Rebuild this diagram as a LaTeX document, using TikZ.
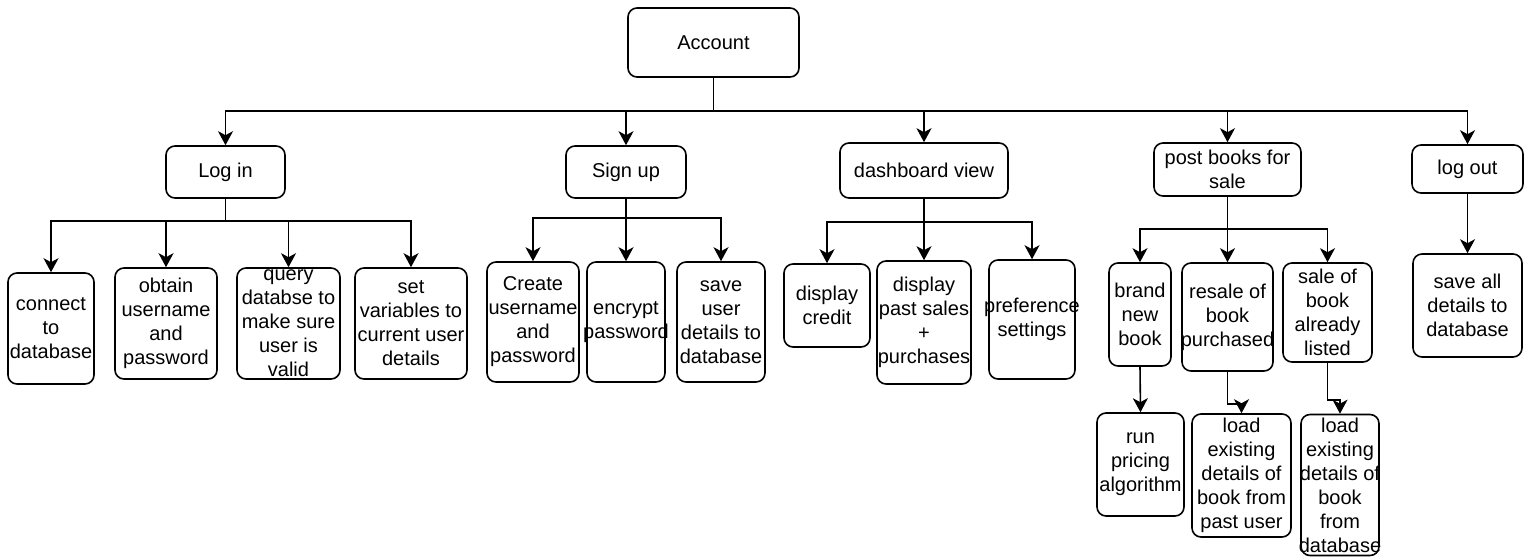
\documentclass[tikz,border=0pt]{standalone}
\usepackage{fontspec}
\setmainfont{Liberation Sans}
\usetikzlibrary{arrows.meta}
\begin{document}
\begin{tikzpicture}[x=1pt,y=-1pt,
  box/.style={draw, rounded corners=9pt, line width=1.6pt, inner sep=0pt},
  lbl/.style={align=center, font=\fontsize{20}{24}\selectfont, inner sep=0pt},
  arr/.style={line width=1.6pt, -{Stealth[length=14pt,width=15pt,inset=4pt]}}]
\useasboundingbox (0,0) rectangle (1528,557);

% root
\node[box, minimum width=171pt, minimum height=69pt, label={[lbl]center:Account}] (acc) at (713.5,42.5) {};

% first level
\node[box, minimum width=119pt, minimum height=52pt, label={[lbl]center:Log in}] (login) at (225.5,172) {};
\node[box, minimum width=120pt, minimum height=52pt, label={[lbl]center:Sign up}] (signup) at (626,172) {};
\node[box, minimum width=168pt, minimum height=55pt, label={[lbl]center:dashboard view}] (dash) at (924,170.5) {};
\node[box, minimum width=147pt, minimum height=53pt, label={[lbl]center:{post books for\\sale}}] (post) at (1227.5,169.5) {};
\node[box, minimum width=111pt, minimum height=48pt, label={[lbl]center:log out}] (logout) at (1467.5,169) {};

% log in steps
\node[box, minimum width=86pt, minimum height=111pt, label={[lbl]center:{connect\\to\\database}}] (li1) at (51,328.5) {};
\node[box, minimum width=102pt, minimum height=111pt, label={[lbl]center:{obtain\\username\\and\\password}}] (li2) at (166,323.5) {};
\node[box, minimum width=103pt, minimum height=111pt, label={[lbl]center:{query\\databse to\\make sure\\user is\\valid}}] (li3) at (288.5,323.5) {};
\node[box, minimum width=112pt, minimum height=111pt, label={[lbl]center:{set\\variables to\\current user\\details}}] (li4) at (411,323.5) {};

% sign up steps
\node[box, minimum width=92pt, minimum height=120pt, label={[lbl]center:{Create\\username\\and\\password}}] (su1) at (533,322) {};
\node[box, minimum width=78pt, minimum height=120pt, label={[lbl]center:{encrypt\\password}}] (su2) at (626,322) {};
\node[box, minimum width=88pt, minimum height=120pt, label={[lbl]center:{save\\user\\details to\\database}}] (su3) at (721,322) {};

% dashboard items
\node[box, minimum width=86pt, minimum height=83pt, label={[lbl]center:{display\\credit}}] (db1) at (827,305.5) {};
\node[box, minimum width=94pt, minimum height=123pt, label={[lbl]center:{display\\past sales\\+\\purchases}}] (db2) at (924,322.5) {};
\node[box, minimum width=86pt, minimum height=119pt, label={[lbl]center:{preference\\settings}}] (db3) at (1032,319.5) {};

% posting options
\node[box, minimum width=62pt, minimum height=103pt, label={[lbl]center:{brand\\new\\book}}] (pb1) at (1140,314.5) {};
\node[box, minimum width=91pt, minimum height=108pt, label={[lbl]center:{resale of\\book\\purchased}}] (pb2) at (1227.5,317) {};
\node[box, minimum width=89pt, minimum height=99pt, label={[lbl]center:{sale of\\book\\already\\listed}}] (pb3) at (1327.5,312.5) {};

% posting follow-ups
\node[box, minimum width=87pt, minimum height=103pt, label={[lbl]center:{run\\pricing\\algorithm}}] (pg1) at (1140.5,464.5) {};
\node[box, minimum width=99pt, minimum height=123pt, label={[lbl]center:{load\\existing\\details of\\book from\\past user}}] (pg2) at (1241.5,475.5) {};
\node[box, minimum width=78pt, minimum height=141pt, label={[lbl]center:{load\\existing\\details of\\book\\from\\database}}] (pg3) at (1340,485) {};

% log out step
\node[box, minimum width=109pt, minimum height=103pt, label={[lbl]center:{save all\\details to\\database}}] (lo1) at (1467.5,305.5) {};

% junction points
\coordinate (accb) at (713.5,111);
\coordinate (lib) at (225.5,221);
\coordinate (sub) at (626,218);
\coordinate (dbb) at (924,222);
\coordinate (pbb) at (1227.5,229);
\coordinate (k2) at (1241.5,404);
\coordinate (k3) at (1340,400);

% connectors from root
\draw[arr] (acc.south) -- (accb) -| (login.north);
\draw[arr] (accb) -| (signup.north);
\draw[arr] (accb) -| (dash.north);
\draw[arr] (accb) -| (post.north);
\draw[arr] (accb) -| (logout.north);

% log in
\draw[arr] (login.south) -- (lib) -| (li1.north);
\draw[arr] (lib) -| (li2.north);
\draw[arr] (lib) -| (li3.north);
\draw[arr] (lib) -| (li4.north);

% sign up
\draw[arr] (signup.south) -- (sub) -| (su1.north);
\draw[arr] (sub) -- (su2.north);
\draw[arr] (sub) -| (su3.north);

% dashboard
\draw[arr] (dash.south) -- (dbb) -| (db1.north);
\draw[arr] (dbb) -- (db2.north);
\draw[arr] (dbb) -| (db3.north);

% post books
\draw[arr] (post.south) -- (pbb) -| (pb1.north);
\draw[arr] (pbb) -- (pb2.north);
\draw[arr] (pbb) -| (pb3.north);
\draw[arr] (pb1.south) -- (pg1.north);
\draw[arr] (pb2.south) |- (k2) -- (pg2.north);
\draw[arr] (pb3.south) |- (k3) -- (pg3.north);

% log out
\draw[arr] (logout.south) -- (lo1.north);
\end{tikzpicture}
\end{document}
